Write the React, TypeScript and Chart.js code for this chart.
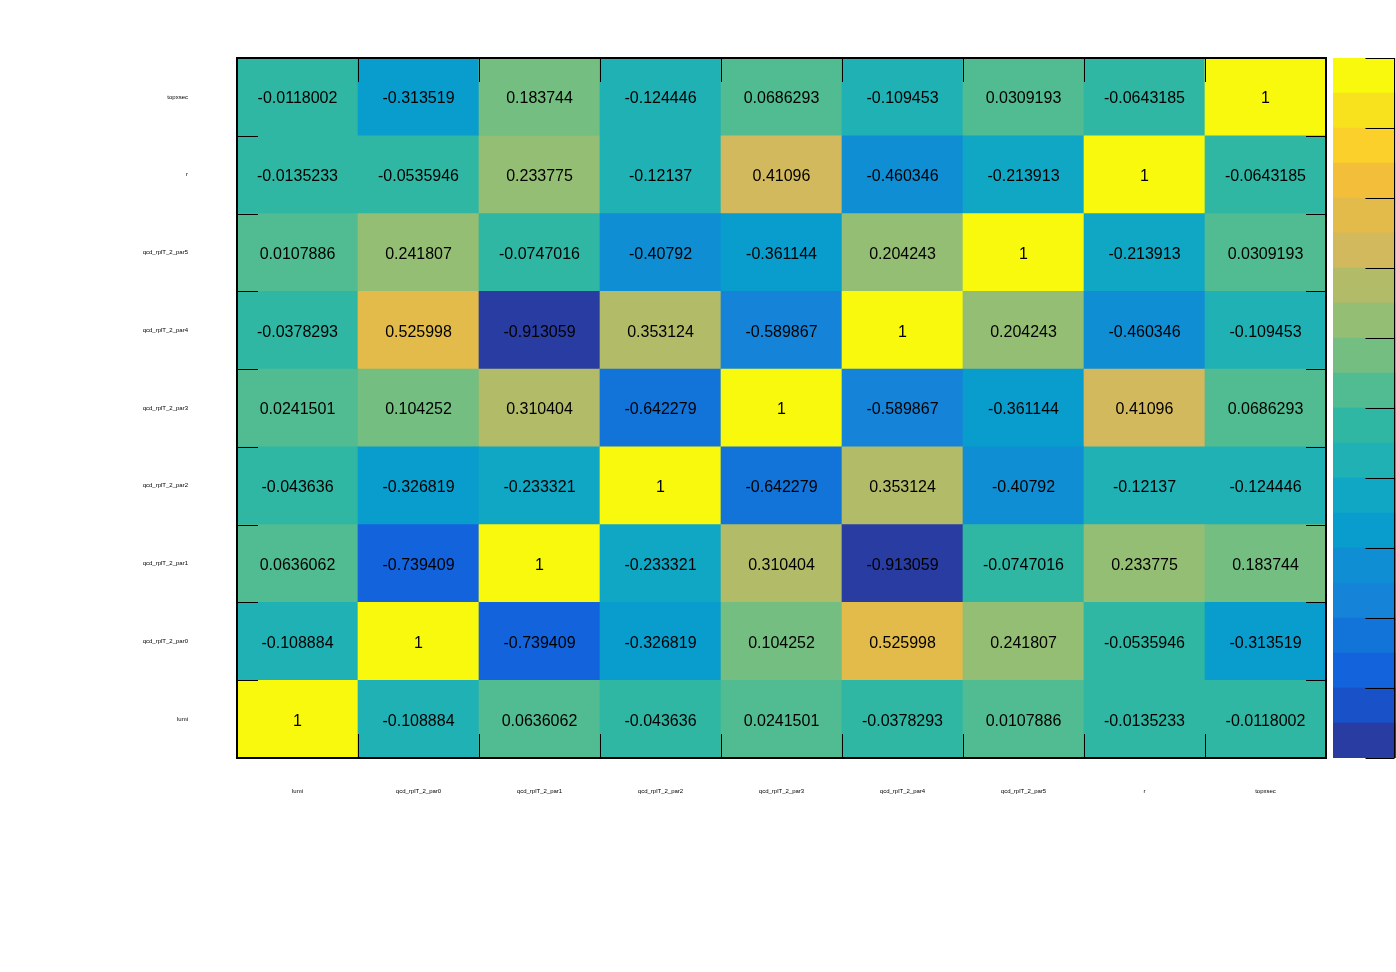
import { useEffect, useRef } from "react";
import { Chart, registerables } from "chart.js";

Chart.register(...registerables);

const FONT_FAMILY = '"Liberation Sans", Arial, Helvetica, sans-serif';

// Columns (left -> right) and rows (bottom -> top)
const columnLabels = [
  "lumi",
  "qcd_rplT_2_par0",
  "qcd_rplT_2_par1",
  "qcd_rplT_2_par2",
  "qcd_rplT_2_par3",
  "qcd_rplT_2_par4",
  "qcd_rplT_2_par5",
  "r",
  "topxsec",
];
const rowLabels = [
  "lumi",
  "qcd_rplT_2_par0",
  "qcd_rplT_2_par1",
  "qcd_rplT_2_par2",
  "qcd_rplT_2_par3",
  "qcd_rplT_2_par4",
  "qcd_rplT_2_par5",
  "r",
  "topxsec",
];

const rowLumi = [1, -0.108884, 0.0636062, -0.043636, 0.0241501, -0.0378293, 0.0107886, -0.0135233, -0.0118002];
const rowPar0 = [-0.108884, 1, -0.739409, -0.326819, 0.104252, 0.525998, 0.241807, -0.0535946, -0.313519];
const rowPar1 = [0.0636062, -0.739409, 1, -0.233321, 0.310404, -0.913059, -0.0747016, 0.233775, 0.183744];
const rowPar2 = [-0.043636, -0.326819, -0.233321, 1, -0.642279, 0.353124, -0.40792, -0.12137, -0.124446];
const rowPar3 = [0.0241501, 0.104252, 0.310404, -0.642279, 1, -0.589867, -0.361144, 0.41096, 0.0686293];
const rowPar4 = [-0.0378293, 0.525998, -0.913059, 0.353124, -0.589867, 1, 0.204243, -0.460346, -0.109453];
const rowPar5 = [0.0107886, 0.241807, -0.0747016, -0.40792, -0.361144, 0.204243, 1, -0.213913, 0.0309193];
const rowR = [-0.0135233, -0.0535946, 0.233775, -0.12137, 0.41096, -0.460346, -0.213913, 1, -0.0643185];
const rowTopxsec = [-0.0118002, -0.313519, 0.183744, -0.124446, 0.0686293, -0.109453, 0.0309193, -0.0643185, 1];

const matrixRows = [rowLumi, rowPar0, rowPar1, rowPar2, rowPar3, rowPar4, rowPar5, rowR, rowTopxsec];

// Palette: 20 levels from -1 to 1 (ascending)
const paletteEdges = [-1, -0.9, -0.8, -0.7, -0.6, -0.5, -0.4, -0.3, -0.2, -0.1, 0, 0.1, 0.2, 0.3, 0.4, 0.5, 0.6, 0.7, 0.8, 0.9, 1];
const paletteColors = [
  "#283ca2",
  "#1851c8",
  "#1263dc",
  "#1273d9",
  "#1583d8",
  "#0f8ed4",
  "#089dcd",
  "#0fa7c4",
  "#20b1b4",
  "#2fb7a3",
  "#51bb91",
  "#73be80",
  "#94be73",
  "#b2bb68",
  "#d3b95e",
  "#e2bb4a",
  "#f3bf3a",
  "#fbd02a",
  "#f7e21d",
  "#f9f90e",
];
const paletteTicks = [-1, -0.8, -0.6, -0.4, -0.2, 0, 0.2, 0.4, 0.6, 0.8, 1];

function colorFor(v: number): string {
  let k = 0;
  for (let i = 0; i < paletteColors.length; i++) {
    if (v >= paletteEdges[i] - 1e-12) k = i;
  }
  return paletteColors[k];
}

function fmt(v: number): string {
  return String(Number(v.toPrecision(6)));
}

const heatPlugin = {
  id: "heatText",
  afterDatasetsDraw(chart: any) {
    const ctx = chart.ctx;
    ctx.save();
    ctx.fillStyle = "#000";
    ctx.font = `16px ${FONT_FAMILY}`;
    ctx.textAlign = "center";
    ctx.textBaseline = "middle";
    chart.data.datasets.forEach((_ds: any, di: number) => {
      const meta = chart.getDatasetMeta(di);
      meta.data.forEach((el: any, j: number) => {
        const p = el.getProps(["x", "y", "base"], true);
        ctx.fillText(fmt(matrixRows[di][j]), p.x, (p.y + p.base) / 2 + 2);
      });
    });
    ctx.restore();
  },
  afterDraw(chart: any) {
    const ctx = chart.ctx;
    const a = chart.chartArea;
    const xs = chart.scales.x;
    const ys = chart.scales.y;
    ctx.save();
    ctx.strokeStyle = "#000";
    ctx.lineWidth = 1;
    ctx.beginPath();
    for (let j = 1; j < columnLabels.length; j++) {
      const x = Math.round((xs.getPixelForValue(j - 1) + xs.getPixelForValue(j)) / 2) + 0.5;
      ctx.moveTo(x, a.top);
      ctx.lineTo(x, a.top + 24);
      ctx.moveTo(x, a.bottom);
      ctx.lineTo(x, a.bottom - 24);
    }
    for (let i = 1; i < rowLabels.length; i++) {
      const y = Math.round(ys.getPixelForValue(i)) + 0.5;
      ctx.moveTo(a.left, y);
      ctx.lineTo(a.left + 21, y);
      ctx.moveTo(a.right, y);
      ctx.lineTo(a.right - 20, y);
    }
    ctx.stroke();
    ctx.lineWidth = 2;
    ctx.strokeRect(a.left, a.top, a.right - a.left, a.bottom - a.top);
    ctx.restore();
  },
};

const paletteAxisPlugin = {
  id: "paletteAxis",
  afterDraw(chart: any) {
    const ctx = chart.ctx;
    const ys = chart.scales.y;
    const axisX = 61.5;
    ctx.save();
    ctx.strokeStyle = "#000";
    ctx.lineWidth = 1;
    ctx.beginPath();
    ctx.moveTo(axisX, ys.getPixelForValue(paletteTicks[0]));
    ctx.lineTo(axisX, ys.getPixelForValue(paletteTicks[paletteTicks.length - 1]));
    paletteTicks.forEach((t) => {
      const y = Math.round(ys.getPixelForValue(t)) + 0.5;
      ctx.moveTo(axisX, y);
      ctx.lineTo(axisX - 29, y);
    });
    ctx.stroke();
    ctx.restore();
  },
};

export default function App() {
  const mainRef = useRef<HTMLCanvasElement | null>(null);
  const paletteRef = useRef<HTMLCanvasElement | null>(null);

  useEffect(() => {
    if (!mainRef.current || !paletteRef.current) return;
    const tickFont = { size: 6, family: FONT_FAMILY };

    const main = new Chart(mainRef.current, {
      type: "bar",
      data: {
        labels: columnLabels,
        datasets: matrixRows.map((row, i) => ({
          label: rowLabels[i],
          data: row.map(() => 1),
          backgroundColor: row.map(colorFor),
          borderWidth: 0,
          barPercentage: 1,
          categoryPercentage: 1,
        })),
      },
      options: {
        responsive: false,
        animation: false,
        events: [],
        layout: { padding: { top: 58, right: 70, left: 0, bottom: 0 } },
        plugins: { legend: { display: false }, tooltip: { enabled: false } },
        scales: {
          x: {
            stacked: true,
            grid: { display: false, drawTicks: false },
            border: { display: false },
            ticks: { font: tickFont, color: "#000", padding: 30, autoSkip: false, maxRotation: 0 },
            afterFit(s: any) {
              s.height = 214;
            },
          },
          y: {
            stacked: true,
            min: 0,
            max: 9,
            grid: { display: false, drawTicks: false },
            border: { display: false },
            ticks: {
              font: tickFont,
              color: "#000",
              padding: 49,
              autoSkip: false,
              callback: (_v: any, i: number) => rowLabels[i],
            },
            afterBuildTicks(s: any) {
              s.ticks = rowLabels.map((_l, i) => ({ value: i + 0.5 }));
            },
            afterFit(s: any) {
              s.width = 237;
            },
          },
        },
      } as any,
      plugins: [heatPlugin],
    });

    const palette = new Chart(paletteRef.current, {
      type: "bar",
      data: {
        labels: ["palette"],
        datasets: paletteColors.map((c, k) => ({
          label: String(paletteEdges[k]),
          data: [[paletteEdges[k], paletteEdges[k + 1]]] as any,
          backgroundColor: c,
          borderWidth: 0,
          barPercentage: 1,
          categoryPercentage: 1,
          grouped: false,
        })),
      },
      options: {
        responsive: false,
        animation: false,
        events: [],
        layout: { padding: { top: 58, bottom: 214, left: 0, right: 0 } },
        plugins: { legend: { display: false }, tooltip: { enabled: false } },
        scales: {
          x: { display: false },
          y: { display: false, min: -1, max: 1 },
        },
      } as any,
      plugins: [paletteAxisPlugin],
    });

    return () => {
      main.destroy();
      palette.destroy();
    };
  }, []);

  return (
    <div
      style={{
        position: "absolute",
        left: 0,
        top: 0,
        width: 1396,
        height: 972,
        overflow: "hidden",
        background: "#fff",
      }}
    >
      <canvas
        ref={mainRef}
        width={1396}
        height={972}
        style={{ position: "absolute", left: 0, top: 0, display: "block" }}
      />
      <canvas
        ref={paletteRef}
        width={100}
        height={972}
        style={{ position: "absolute", left: 1333, top: 0, display: "block" }}
      />
    </div>
  );
}
